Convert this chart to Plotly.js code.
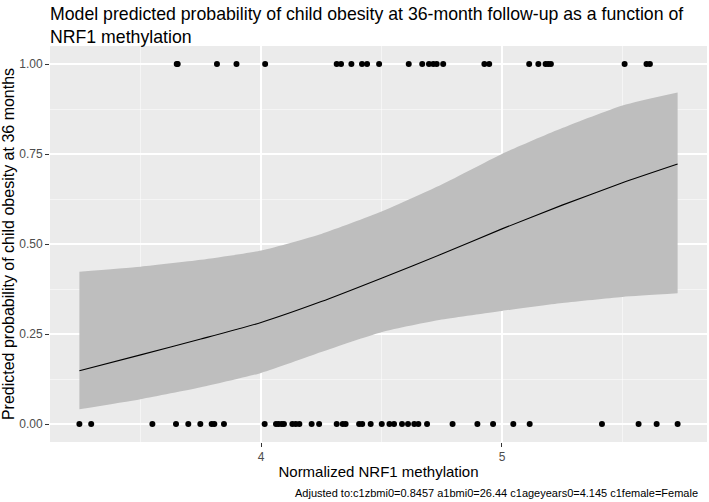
<!DOCTYPE html>
<html>
<head>
<meta charset="utf-8">
<script src="https://cdn.plot.ly/plotly-3.0.1.min.js"></script>
<style>html,body{margin:0;padding:0;background:#fff;}#chart{width:709px;height:502px;}</style>
</head>
<body>
<div id="chart"></div>
<script>
// Observed outcomes (NRF1 methylation) for obese = 1 and obese = 0
const obeseX = [3.650, 3.654, 3.817, 3.898, 4.017, 4.314, 4.332, 4.375, 4.419, 4.440, 4.490,
  4.613, 4.669, 4.697, 4.715, 4.729, 4.756, 4.927, 4.947, 5.113, 5.151, 5.181, 5.192, 5.203,
  5.509, 5.600, 5.614];
const nonObeseX = [3.246, 3.295, 3.549, 3.647, 3.698, 3.748, 3.795, 3.806, 3.846, 4.015,
  4.062, 4.073, 4.086, 4.095, 4.130, 4.144, 4.159, 4.210, 4.241, 4.314, 4.339, 4.351, 4.407,
  4.420, 4.455, 4.501, 4.533, 4.552, 4.585, 4.610, 4.636, 4.653, 4.689, 4.795, 4.898, 4.963,
  5.047, 5.115, 5.415, 5.567, 5.642, 5.729];
const obeseY = obeseX.map(() => 1);
const nonObeseY = nonObeseX.map(() => 0);

// Predicted probability curve and 95% CI
const predX = [3.246, 3.5, 3.75, 4.0, 4.25, 4.5, 4.75, 5.0, 5.25, 5.5, 5.729];
const predY = [0.148, 0.192, 0.236, 0.282, 0.340, 0.405, 0.472, 0.542, 0.608, 0.670, 0.722];
const ciUpper = [0.423, 0.437, 0.456, 0.482, 0.528, 0.590, 0.665, 0.750, 0.822, 0.885, 0.921];
const ciLower = [0.041, 0.069, 0.102, 0.142, 0.200, 0.255, 0.290, 0.314, 0.336, 0.353, 0.363];

const xTicks = [4, 5];
const yTicks = [0, 0.25, 0.5, 0.75, 1];
const yTickText = ['0.00', '0.25', '0.50', '0.75', '1.00'];

const traces = [
  {x: predX, y: ciLower, type: 'scatter', mode: 'lines', line: {width: 0, color: 'rgba(0,0,0,0)', shape: 'spline', smoothing: 0.6}, hoverinfo: 'skip', showlegend: false},
  {x: predX, y: ciUpper, type: 'scatter', mode: 'lines', fill: 'tonexty', fillcolor: '#BEBEBE', line: {width: 0, color: 'rgba(0,0,0,0)', shape: 'spline', smoothing: 0.6}, hoverinfo: 'skip', showlegend: false},
  {x: predX, y: predY, type: 'scatter', mode: 'lines', line: {color: '#000000', width: 1.1, shape: 'spline', smoothing: 0.6}, showlegend: false},
  {x: obeseX, y: obeseY, type: 'scatter', mode: 'markers', marker: {color: '#000000', size: 6}, showlegend: false},
  {x: nonObeseX, y: nonObeseY, type: 'scatter', mode: 'markers', marker: {color: '#000000', size: 6}, showlegend: false}
];

const layout = {
  width: 709, height: 502,
  margin: {l: 50, r: 2, t: 46, b: 60},
  paper_bgcolor: '#FFFFFF',
  plot_bgcolor: '#EBEBEB',
  font: {family: 'Liberation Sans, Arial, sans-serif', color: '#000000'},
  title: {
    text: 'Model predicted probability of child obesity at 36-month follow-up as a function of<br>NRF1 methylation',
    x: 50 / 709, xref: 'container', xanchor: 'left',
    y: 1 - 20 / 502, yref: 'container', yanchor: 'middle',
    font: {size: 17.7, color: '#000000'}
  },
  xaxis: {
    range: [3.124, 5.851],
    tickvals: xTicks, ticktext: xTicks.map(String),
    showgrid: true, gridcolor: '#FFFFFF', gridwidth: 1.1,
    minor: {tickvals: [3.5, 4.5, 5.5], showgrid: true, gridcolor: '#FFFFFF', gridwidth: 0.5, ticks: ''},
    zeroline: false, showline: false,
    ticks: 'outside', ticklen: 4, tickcolor: '#333333', tickwidth: 1,
    tickfont: {size: 12, color: '#4D4D4D'},
    title: {text: 'Normalized NRF1 methylation', font: {size: 15, color: '#000000'}, standoff: 3}
  },
  yaxis: {
    range: [-0.05, 1.05],
    tickvals: yTicks, ticktext: yTickText,
    showgrid: true, gridcolor: '#FFFFFF', gridwidth: 1.1,
    minor: {tickvals: [0.125, 0.375, 0.625, 0.875], showgrid: true, gridcolor: '#FFFFFF', gridwidth: 0.5, ticks: ''},
    zeroline: false, showline: false,
    ticks: 'outside', ticklen: 4, tickcolor: '#333333', tickwidth: 1,
    tickfont: {size: 12, color: '#4D4D4D'},
    title: {text: 'Predicted probability of child obesity at 36 months', font: {size: 16, color: '#000000'}, standoff: 4}
  },
  annotations: [{
    text: 'Adjusted to:c1zbmi0=0.8457 a1bmi0=26.44 c1ageyears0=4.145 c1female=Female',
    xref: 'paper', yref: 'paper', x: 1, y: (442 - 493) / 396,
    xanchor: 'right', yanchor: 'middle', xshift: -7,
    showarrow: false, font: {size: 11, color: '#000000'}
  }]
};

Plotly.newPlot('chart', traces, layout, {displayModeBar: false, staticPlot: true});
</script>
</body>
</html>
